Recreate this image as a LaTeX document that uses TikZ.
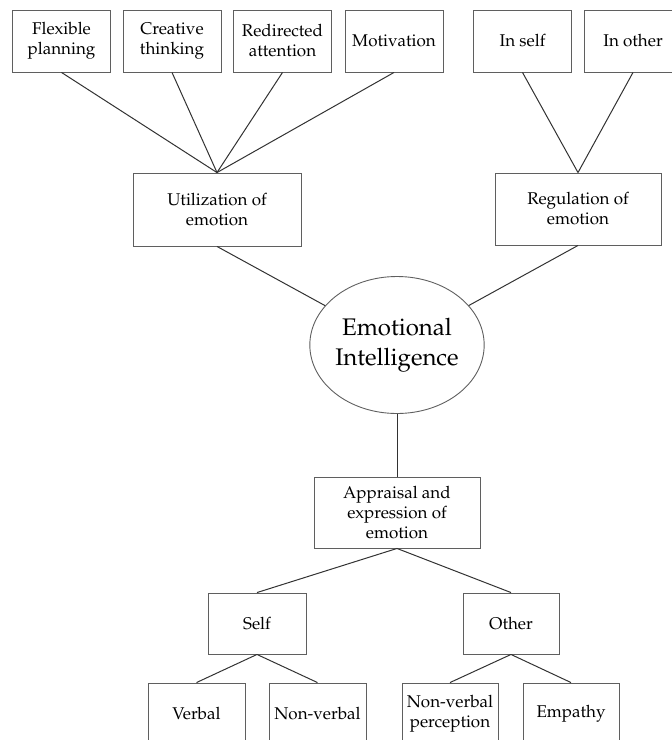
\documentclass[tikz,border=0pt]{standalone}
\usepackage[T1]{fontenc}
\usepackage{mathpazo}
\usepackage{xcolor}
\usepackage{tikz}
\usetikzlibrary{positioning, shapes.geometric}
\definecolor{boxline}{RGB}{95,95,95}
\definecolor{linkline}{RGB}{50,50,50}

\begin{document}
\begin{tikzpicture}[
    x=1pt, y=-1pt,
    box/.style={draw=boxline, line width=0.9pt, fill=white, align=center,
                minimum width=#1, inner sep=2pt,
                font=\fontsize{17}{20}\selectfont},
    box/.default=98pt,
    hub/.style={draw=boxline, line width=0.9pt, ellipse, inner sep=0pt,
                minimum width=164pt, minimum height=137pt, align=center,
                font=\fontsize{24}{30}\selectfont},
    link/.style={draw=linkline, line width=1pt}
]
\useasboundingbox (0,0) rectangle (672,740);
\clip (0,0) rectangle (672,740);

% ---- centre ----
\node[hub] (ei) at (397,345) {Emotional\\Intelligence};

% ---- utilization branch ----
\node[box=168pt, minimum height=73pt] (util) at (217,209.5) {Utilization of\\emotion};
\node[box, minimum height=62pt] (flex)  at (61.5,41)  {Flexible\\planning};
\node[box, minimum height=62pt] (creat) at (172,41)   {Creative\\thinking};
\node[box, minimum height=62pt] (redir) at (282.5,41) {Redirected\\attention};
\node[box, minimum height=62pt] (motiv) at (394,41)   {Motivation};
\draw[link] (flex.south)  -- (util.north);
\draw[link] (creat.south) -- (util.north);
\draw[link] (redir.south) -- (util.north);
\draw[link] (motiv.south) -- (util.north);

% ---- regulation branch ----
\node[box=166pt, minimum height=72pt] (regul) at (578,209) {Regulation of\\emotion};
\node[box, minimum height=62pt] (inself)  at (522.5,41) {In self};
\node[box, minimum height=62pt] (inother) at (633,41)   {In other};
\draw[link] (inself.south)  -- (regul.north);
\draw[link] (inother.south) -- (regul.north);

\draw[link] (util.south)  -- (ei);
\draw[link] (regul.south) -- (ei);

% ---- appraisal branch ----
\node[box=166pt, minimum height=71pt] (appr) at (397,512.5) {Appraisal and\\expression of\\emotion};
\draw[link] (ei.south) -- (appr.north);

\node[box, minimum height=61pt] (self)  at (257,623.5) {Self};
\node[box=96pt, minimum height=61pt] (other) at (511,623.5) {Other};
\draw[link] (appr.south) -- (self.north);
\draw[link] (appr.south) -- (other.north);

\node[box=97pt, minimum height=62pt] (verbal)  at (196.5,714) {Verbal};
\node[box=97pt, minimum height=62pt] (nonverb) at (317.5,714) {Non-verbal};
\node[box=96pt, minimum height=62pt] (nvperc)  at (450,714)   {Non-verbal\\perception};
\node[box=96pt, minimum height=62pt] (empathy) at (571,714)   {Empathy};
\draw[link] (self.south)  -- (verbal.north);
\draw[link] (self.south)  -- (nonverb.north);
\draw[link] (other.south) -- (nvperc.north);
\draw[link] (other.south) -- (empathy.north);

\end{tikzpicture}
\end{document}
